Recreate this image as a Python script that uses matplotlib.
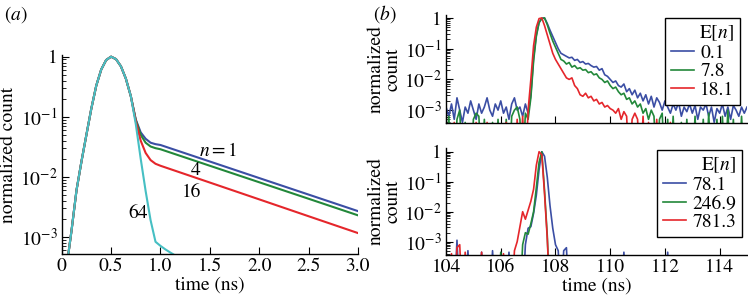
import numpy as np
import matplotlib
matplotlib.use("Agg")
import matplotlib.pyplot as plt
from matplotlib.ticker import FixedLocator, LogLocator, NullFormatter, FuncFormatter

plt.rcParams['font.family'] = 'STIXGeneral'
plt.rcParams['mathtext.fontset'] = 'stix'
plt.rcParams['font.size'] = 14

# ---- panel (a): simulated curves ----
t_rise = [0.05, 0.10, 0.15, 0.20, 0.25, 0.30, 0.35, 0.40, 0.45, 0.50,
          0.55, 0.60, 0.65, 0.70]
rise = [3.2e-4, 1.3e-3, 6.0e-3, 0.018, 0.050, 0.137, 0.33, 0.61, 0.88, 1.0,
        0.91, 0.69, 0.43, 0.22]

t_tail = [0.75, 0.80, 0.85, 0.90, 0.95, 1.0, 1.5, 2.0, 2.5, 3.0]
tail_n1 = [0.090, 0.055, 0.043, 0.037, 0.035, 0.0339, 0.0180, 0.00955, 0.00507, 0.00269]
tail_n4 = [0.088, 0.050, 0.037, 0.032, 0.030, 0.0288, 0.0153, 0.00813, 0.00432, 0.00229]
tail_n16 = [0.085, 0.040, 0.025, 0.019, 0.0165, 0.0153, 0.00804, 0.00422, 0.00221, 0.00116]

t_tail64 = [0.75, 0.80, 0.85, 0.90, 0.95, 1.00, 1.05, 1.10, 1.15, 1.20]
tail_n64 = [0.076, 0.020, 0.0058, 0.0019, 8.3e-4, 7.1e-4, 6.2e-4, 5.5e-4, 4.9e-4, 4.4e-4]

n_labels = ['$n = 1$', '4', '16', '64']
n_label_pos = [(1.58, 0.027), (1.36, 0.0129), (1.31, 0.0056), (0.77, 0.00245)]

# ---- panel (b): measured histograms, log10 of normalized count ----
# one row = 1 ns, bins of 0.1 ns from 104.0 to 115.0; -5 = empty bin
top_E = ['0.1', '7.8', '18.1']
top_log = [
    [-2.9, -3.2, -2.8, -3.3, -2.6, -3.0, -3.4, -2.9, -3.1, -2.7,
     -3.0, -3.3, -2.8, -3.1, -2.9, -2.6, -3.0, -3.2, -2.8, -3.0,
     -2.7, -3.1, -2.9, -3.3, -2.8, -2.6, -3.0, -2.9, -3.2, -2.8,
     -3.1, -2.5, -1.3, -0.55, -0.15, -0.02, 0.0, -0.18, -0.4, -0.6,
     -0.8, -1.0, -1.15, -1.2, -1.25, -1.3, -1.28, -1.38, -1.35, -1.45,
     -1.42, -1.5, -1.48, -1.55, -1.6, -1.58, -1.7, -1.65, -1.85, -1.9,
     -2.0, -2.1, -2.05, -2.2, -2.25, -2.15, -2.4, -2.3, -2.5, -2.35,
     -2.6, -2.45, -2.7, -2.5, -2.8, -2.55, -2.9, -2.6, -2.75, -3.0,
     -2.7, -2.9, -3.1, -2.8, -3.0, -2.75, -3.2, -2.9, -3.05, -2.8,
     -3.1, -2.85, -3.3, -2.9, -3.0, -2.8, -3.2, -2.9, -3.4, -2.95,
     -3.1, -2.8, -3.2, -2.9, -3.3, -2.85, -3.0, -3.2, -2.9, -3.1,
     -2.9],
    [-5, -3.2, -5, -5, -3.3, -3.0, -5, -3.4, -5, -5,
     -3.3, -3.1, -3.2, -5, -3.3, -5, -5, -3.4, -5, -3.3,
     -5, -5, -3.3, -5, -3.2, -3.0, -2.9, -3.3, -5, -3.1,
     -3.3, -2.6, -1.4, -0.6, -0.15, -0.01, 0.0, -0.22, -0.5, -0.75,
     -0.95, -1.15, -1.35, -1.4, -1.5, -1.45, -1.6, -1.55, -1.65, -1.62,
     -1.7, -1.68, -1.78, -1.75, -1.85, -1.82, -1.95, -2.0, -2.1, -2.05,
     -2.2, -2.3, -2.25, -2.4, -2.5, -2.45, -2.65, -2.6, -2.8, -2.7,
     -2.9, -2.8, -3.1, -2.95, -3.3, -3.0, -3.2, -5, -3.3, -3.1,
     -5, -3.3, -5, -3.2, -5, -5, -3.4, -5, -3.3, -5,
     -5, -3.2, -5, -5, -3.3, -5, -3.1, -5, -5, -3.3,
     -5, -3.2, -5, -3.0, -5, -3.3, -5, -5, -3.2, -5,
     -5],
    [-3.3, -5, -5, -3.4, -5, -5, -5, -5, -5, -5,
     -5, -3.4, -5, -5, -5, -3.4, -5, -5, -5, -5,
     -5, -5, -3.4, -5, -5, -5, -3.3, -5, -3.2, -5,
     -3.0, -2.0, -0.9, -0.3, -0.02, 0.0, -0.25, -0.55, -0.85, -1.15,
     -1.35, -1.5, -1.65, -1.8, -1.95, -2.0, -1.95, -2.2, -2.3, -2.5,
     -2.55, -2.45, -2.6, -2.55, -2.7, -2.65, -2.8, -2.75, -2.9, -2.85,
     -2.95, -3.0, -3.1, -2.95, -3.3, -3.05, -3.2, -5, -3.3, -3.1,
     -3.3, -5, -3.2, -5, -3.4, -5, -5, -3.3, -5, -5,
     -5, -5, -3.4, -5, -5, -5, -5, -5, -5, -5,
     -5, -5, -5, -5, -5, -5, -5, -5, -5, -5,
     -5, -5, -5, -5, -5, -5, -5, -5, -5, -5,
     -5],
]

bot_E = ['78.1', '246.9', '781.3']
bot_log = [
    [-5, -5, -5, -5, -2.95, -5, -5, -5, -3.3, -5,
     -5, -5, -5, -3.35, -5, -5, -5, -3.3, -5, -5,
     -5, -5, -5, -3.35, -5, -5, -5, -5, -5, -3.1,
     -2.55, -2.5, -2.05, -1.45, -0.6, 0.0, -0.15, -0.85, -1.8, -2.55,
     -3.1, -3.3, -5, -3.3, -3.2, -5, -5, -5, -5, -5,
     -5, -5, -5, -5, -5, -5, -5, -5, -5, -5,
     -5, -5, -5, -5, -5, -3.35, -5, -5, -5, -5,
     -5, -5, -5, -5, -5, -5, -5, -5, -5, -5,
     -5, -3.35, -5, -5, -5, -5, -5, -5, -5, -5,
     -5, -5, -5, -5, -5, -5, -5, -5, -5, -5,
     -5, -5, -5, -5, -5, -5, -5, -5, -5, -5,
     -5],
    [-5, -5, -5, -5, -5, -5, -5, -5, -5, -5,
     -5, -5, -5, -5, -5, -5, -5, -5, -5, -5,
     -3.35, -5, -5, -5, -5, -5, -5, -5, -3.1, -2.7,
     -2.75, -2.4, -2.0, -1.2, -0.35, 0.0, -1.3, -2.8, -5, -5,
     -5, -5, -5, -5, -5, -5, -5, -5, -5, -5,
     -5, -5, -5, -5, -5, -5, -5, -5, -5, -5,
     -5, -5, -5, -5, -5, -5, -5, -5, -5, -5,
     -5, -5, -5, -5, -5, -5, -5, -5, -5, -5,
     -5, -5, -5, -5, -5, -5, -5, -5, -5, -5,
     -5, -5, -5, -5, -5, -5, -5, -5, -5, -5,
     -5, -5, -5, -5, -5, -5, -5, -5, -5, -5,
     -5],
    [-5, -5, -3.4, -5, -3.2, -3.1, -5, -3.35, -5, -5,
     -5, -5, -5, -3.35, -5, -5, -5, -5, -5, -5,
     -5, -3.4, -5, -5, -5, -3.3, -3.0, -2.5, -2.0, -2.25,
     -1.95, -1.65, -1.25, -0.45, 0.0, -0.1, -1.4, -2.9, -5, -5,
     -5, -5, -5, -5, -5, -5, -5, -5, -5, -5,
     -5, -5, -5, -5, -5, -5, -5, -5, -5, -5,
     -5, -5, -5, -5, -5, -5, -5, -5, -5, -5,
     -5, -5, -5, -5, -5, -5, -5, -5, -5, -5,
     -5, -5, -5, -5, -5, -5, -5, -5, -5, -5,
     -5, -5, -5, -5, -5, -5, -5, -5, -5, -5,
     -5, -5, -5, -5, -5, -5, -5, -5, -5, -5,
     -5],
]

colors = ['#3b4ea4', '#22883a', '#e5262b', '#46bfc3']


def log_fmt(v, pos):
    if v == 1:
        return '1'
    return r'$10^{%d}$' % round(np.log10(v))


def style_axes(ax, ylim):
    ax.set_yscale('log')
    ax.set_ylim(*ylim)
    for s in ['top', 'right']:
        ax.spines[s].set_visible(False)
    for s in ['left', 'bottom']:
        ax.spines[s].set_linewidth(1.0)
    ax.tick_params(which='both', direction='in', top=False, right=False, pad=3)
    ax.tick_params(which='major', length=5, width=0.8)
    ax.tick_params(which='minor', length=3, width=0.6)
    ax.yaxis.set_major_locator(FixedLocator([1e-3, 1e-2, 1e-1, 1]))
    ax.yaxis.set_minor_locator(LogLocator(base=10, subs=np.arange(2, 10), numticks=12))
    ax.yaxis.set_minor_formatter(NullFormatter())
    ax.yaxis.set_major_formatter(FuncFormatter(log_fmt))


fig = plt.figure(figsize=(7.48, 2.98), dpi=100)

# (a)
ax_a = fig.add_axes([0.0825, 0.1477, 0.396, 0.668])
t_full = t_rise + t_tail
t_64 = t_rise + t_tail64
series_a = [rise + tail_n1, rise + tail_n4, rise + tail_n16]
for vals, c in zip(series_a, colors[:3]):
    ax_a.plot(t_full, vals, color=c, lw=1.5)
ax_a.plot(t_64, rise + tail_n64, color=colors[3], lw=1.5)
style_axes(ax_a, (5.2e-4, 1.07))
ax_a.set_xlim(0, 3.0)
ax_a.set_xticks([0, 0.5, 1.0, 1.5, 2.0, 2.5, 3.0])
ax_a.set_xticklabels(['0', '0.5', '1.0', '1.5', '2.0', '2.5', '3.0'])
ax_a.set_xlabel('time (ns)', labelpad=1)
ax_a.set_ylabel('normalized count', labelpad=2)
for lab, (x, y) in zip(n_labels, n_label_pos):
    ax_a.text(x, y, lab, ha='center', va='center', fontsize=14)

# (b)
t_b = np.linspace(104.0, 115.0, 111)
ax_bt = fig.add_axes([0.5963, 0.5883, 0.4024, 0.3614])
ax_bb = fig.add_axes([0.5963, 0.1443, 0.4024, 0.359])

for ax, logs, labels, ylim, anchor in [
        (ax_bt, top_log, top_E, (3.9e-4, 1.25), (0.977, 0.972)),
        (ax_bb, bot_log, bot_E, (3.6e-4, 1.33), (0.983, 0.981))]:
    for lv, lab, c in zip(logs, labels, colors[:3]):
        ax.plot(t_b, 10.0 ** np.array(lv), color=c, lw=1.2, label=lab)
    style_axes(ax, ylim)
    ax.set_xlim(104, 115)
    ax.set_xticks([104, 106, 108, 110, 112, 114])
    ax.set_ylabel('normalized\ncount', linespacing=0.95, labelpad=2)
    leg = ax.legend(title='E[$n$]', loc='upper right', bbox_to_anchor=anchor,
                    borderaxespad=0, fancybox=False, framealpha=1,
                    edgecolor='black', handlelength=1.2, handletextpad=0.3,
                    labelspacing=0.05, borderpad=0.3, fontsize=14,
                    title_fontsize=14, alignment='right')
    leg.get_frame().set_linewidth(1.0)

ax_bt.tick_params(axis='x', labelbottom=False)
ax_bb.set_xlabel('time (ns)', labelpad=1)

fig.text(0.005, 0.935, '($a$)', fontsize=14)
fig.text(0.498, 0.935, '($b$)', fontsize=14)

fig.savefig('out.png', dpi=100)
